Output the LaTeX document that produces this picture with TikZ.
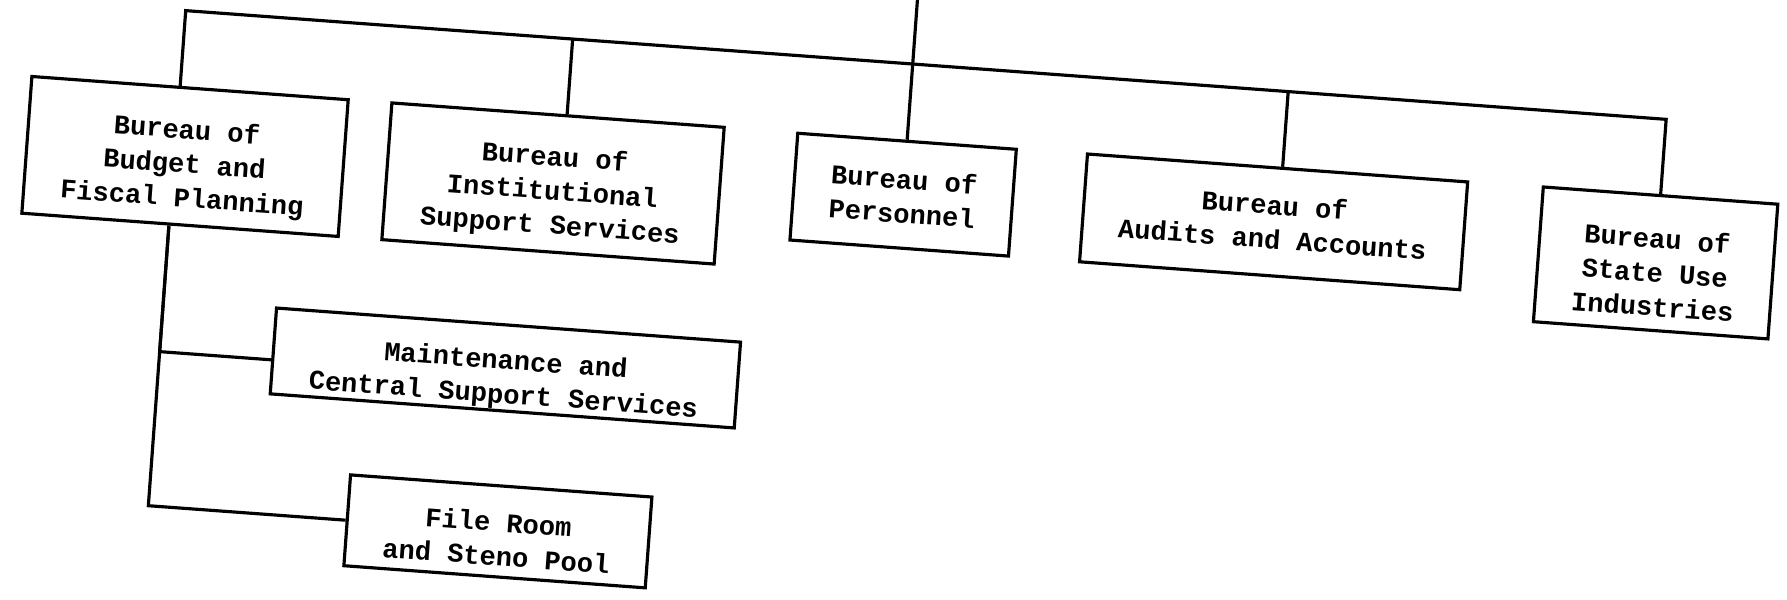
\documentclass[tikz,border=0pt]{standalone}
\usepackage{fontspec}
\setmonofont{Liberation Mono}
\usetikzlibrary{positioning}

\newcommand{\topgap}[1]{\rule{0pt}{#1}}

\begin{document}
\begin{tikzpicture}[
	x=0.01cm, y=-0.01cm,
	lines/.style={
		line width=0.9pt
	},
	bureau/.style={
		rectangle,
		draw=black,
		line width=0.9pt,
		inner sep=0pt,
		align=center,
		font=\ttfamily\bfseries\fontsize{7.7}{9.7}\selectfont
	}
]
	\useasboundingbox (0,0) rectangle (1787,600);
	\clip (0,0) rectangle (1787,600);

	\begin{scope}[transform canvas={rotate=-4.2}]
	\node[bureau, minimum width=3.17cm, minimum height=1.37cm] (budget) at (196,142.5) {
		\topgap{11pt}Bureau of\\
		Budget and\\
		Fiscal Planning
	};

	\node[bureau, minimum width=3.33cm, minimum height=1.37cm] (inst) at (565,142.5) {
		\topgap{11pt}Bureau of\\
		Institutional\\
		Support Services
	};

	\node[bureau, minimum width=2.19cm, minimum height=1.07cm] (pers) at (915,128) {
		\topgap{6.5pt}Bureau of\\
		Personnel
	};

	\node[bureau, minimum width=3.81cm, minimum height=1.08cm] (audits) at (1286.5,128) {
		Bureau of\\
		Audits and Accounts
	};

	\node[bureau, minimum width=2.35cm, minimum height=1.35cm] (state) at (1670.5,141) {
		\topgap{11pt}Bureau of\\
		State Use\\
		Industries
	};
	%%
	\node[bureau, minimum width=4.65cm, minimum height=0.86cm] (maint) at (531,330) {
		\topgap{12pt}Maintenance and\\
		Central Support Services
	};

	\node[bureau, minimum width=3.02cm, minimum height=0.91cm] (file) at (535.5,493.5) {
		\topgap{9.8pt}File Room\\
		and Steno Pool
	};

	\coordinate (bar) at (0,-3);
	\coordinate (head) at (918,-150);

	\draw[lines] (pers.north) -- (pers.north |- head);
	\draw[lines] ([xshift=-0.1cm]budget.north) |- (bar -| state.north) -- (state.north);
	\draw[lines] ([xshift=0.09cm]inst.north) -- ([xshift=0.09cm]inst.north |- bar);
	\draw[lines] ([xshift=0.05cm]audits.north) -- ([xshift=0.05cm]audits.north |- bar);

	\draw[lines] ([xshift=-0.11cm]budget.south) |- ([yshift=-0.09cm]maint.west);
	\draw[lines] ([xshift=-0.11cm]budget.south) |- (file.west);
	\end{scope}
\end{tikzpicture}
\end{document}
